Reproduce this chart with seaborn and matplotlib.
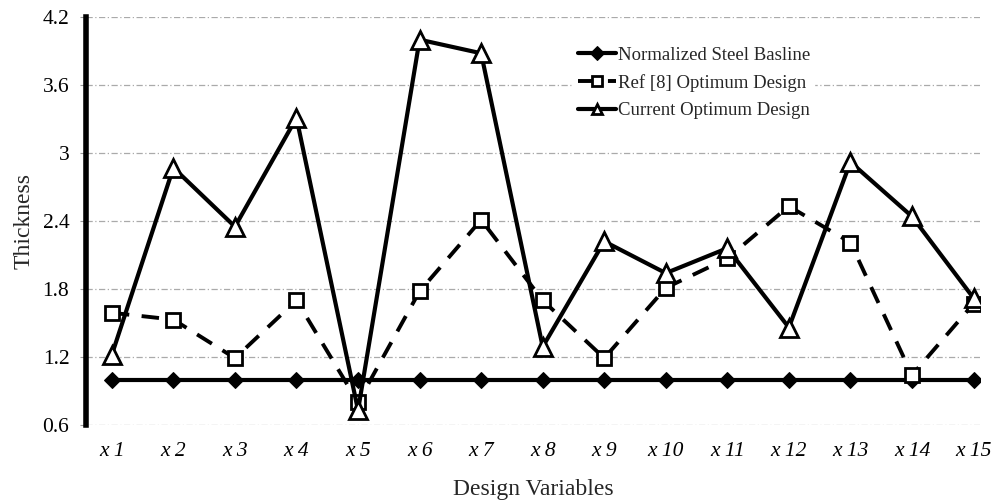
import numpy as np
import pandas as pd
import matplotlib
matplotlib.use('Agg')
import matplotlib.pyplot as plt
import seaborn as sns

labels = ['x 1', 'x 2', 'x 3', 'x 4', 'x 5', 'x 6', 'x 7', 'x 8',
          'x 9', 'x 10', 'x 11', 'x 12', 'x 13', 'x 14', 'x 15']
baseline = [1.0] * 15
ref8 = [1.59, 1.53, 1.19, 1.70, 0.80, 1.78, 2.41, 1.70,
        1.19, 1.81, 2.07, 2.53, 2.21, 1.04, 1.67]
current = [1.22, 2.87, 2.35, 3.31, 0.73, 4.00, 3.88, 1.29,
           2.22, 1.94, 2.16, 1.46, 2.92, 2.44, 1.72]

sns.set_style('white')
plt.rcParams['font.family'] = ['Liberation Serif', 'DejaVu Serif']

idx = np.arange(len(labels))
df = pd.DataFrame({'idx': idx, 'base': baseline, 'ref': ref8, 'cur': current})

fig = plt.figure(figsize=(9.93, 5.0), dpi=100)
ax = fig.add_axes([0.0866, 0.15, 0.9, 0.816])

sns.lineplot(data=df, x='idx', y='base', ax=ax, color='black', lw=3,
             marker='D', markersize=8, markeredgecolor='black',
             label='Normalized Steel Basline', zorder=3)
sns.lineplot(data=df, x='idx', y='ref', ax=ax, color='black', lw=2.8,
             marker='s', markersize=10, markerfacecolor='white',
             markeredgecolor='black', markeredgewidth=2,
             label='Ref [8] Optimum Design', zorder=4)
ax.lines[-1].set_dashes((4.5, 3.2))
sns.lineplot(data=df, x='idx', y='cur', ax=ax, color='black', lw=3,
             marker='^', markersize=13, markerfacecolor='white',
             markeredgecolor='black', markeredgewidth=2,
             label='Current Optimum Design', zorder=5)

ax.set_ylim(0.6, 4.2)
ax.set_yticks([0.6, 1.2, 1.8, 2.4, 3.0, 3.6, 4.2])
ax.set_yticklabels(['0.6', '1.2', '1.8', '2.4', '3', '3.6', '4.2'])
ax.set_xlim(-0.42, 14.1)
ax.set_xticks(idx)
ax.set_xticklabels(labels, fontstyle='italic')
ax.tick_params(axis='both', labelsize=15.5, colors='black')
ax.tick_params(axis='x', length=0, pad=12)
ax.tick_params(axis='y', length=4, color='#999999', left=True, pad=8)

ax.yaxis.grid(True, color='#aaaaaa', lw=0.9, ls=(0, (5, 2, 1, 2)))
ax.xaxis.grid(False)
for s in ['top', 'right', 'bottom']:
    ax.spines[s].set_visible(False)
ax.spines['left'].set_linewidth(4)
ax.spines['left'].set_color('black')

ax.set_xlabel('Design Variables', fontsize=17, labelpad=13)
ax.set_ylabel('Thickness', fontsize=17, labelpad=6)

leg = ax.legend(loc='upper left', bbox_to_anchor=(0.536, 0.96), frameon=True,
                framealpha=1, edgecolor='white', fontsize=13.5,
                handlelength=2.0, handletextpad=0.1, labelspacing=0.55,
                borderpad=0.2)
for h in leg.legend_handles:
    h.set_markersize(7)

fig.savefig('out.png', dpi=100)
